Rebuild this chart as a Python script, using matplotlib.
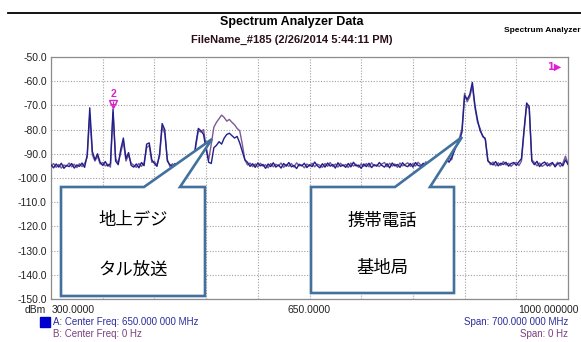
import numpy as np
import matplotlib
import matplotlib.pyplot as plt
from matplotlib.patches import Polygon, Rectangle
matplotlib.use('Agg')

# sweep: 300 MHz .. 1000 MHz, 201 points
freq = np.linspace(300, 1000, 201)

# trace A (dBm)
level_a = [
    -94.5, -95.8, -94.2, -95.5, -93.9, -96.0, -94.8, -95.3, -94.0, -95.9,
    -94.6, -95.2, -93.8, -95.6, -90.5, -71.0, -89.0, -92.5, -90.0, -93.5,
    -94.8, -93.2, -95.1, -94.0, -71.5, -93.0, -94.5, -88.0, -83.5, -92.0,
    -89.5, -94.8, -95.5, -94.2, -95.8, -93.6, -94.9, -86.0, -85.5, -92.5,
    -94.0, -95.2, -90.0, -77.5, -80.0, -93.0, -94.5, -95.3, -94.0, -95.6,
    -93.8, -95.0, -94.3, -95.7, -93.9, -94.8, -86.0, -79.5, -80.5, -82.0,
    -88.0, -93.5, -94.0, -87.5, -86.5, -85.0, -86.0, -83.5, -82.0, -81.5,
    -82.5, -83.5, -82.8, -85.5, -89.0, -92.5, -93.5, -95.2, -94.1, -95.6,
    -93.8, -95.0, -94.4, -96.0, -94.2, -95.3, -93.7, -95.5, -94.6, -95.9,
    -94.0, -95.1, -93.6, -95.4, -94.8, -96.1, -94.3, -95.0, -93.9, -95.7,
    -94.5, -95.3, -93.4, -94.9, -95.8, -94.1, -95.5, -93.8, -95.1, -94.4,
    -95.9, -93.7, -95.2, -94.6, -95.6, -94.0, -95.4, -93.5, -95.0, -94.7,
    -96.0, -94.2, -95.3, -93.9, -95.7, -94.5, -95.1, -93.6, -94.8, -95.5,
    -94.1, -95.8, -93.8, -95.0, -94.4, -95.6, -93.7, -94.9, -95.3, -94.0,
    -95.5, -93.6, -94.8, -95.2, -93.9, -95.7, -94.3, -93.4, -94.9, -93.2,
    -94.6, -92.8, -93.9, -92.0, -93.5, -91.5, -89.0, -86.0, -84.5, -81.0,
    -66.0, -67.5, -65.5, -60.5, -70.0, -76.0, -80.5, -82.5, -84.0, -93.0,
    -93.8, -94.6, -93.2, -95.0, -93.9, -94.4, -93.5, -95.1, -94.0, -93.6,
    -94.8, -93.3, -92.0, -80.0, -69.0, -70.5, -93.0, -94.5, -93.1, -95.3,
    -94.0, -93.4, -95.0, -94.2, -93.6, -95.4, -94.1, -93.7, -95.0, -92.5,
    -94.4,
]

# trace B (dBm)
level_b = [
    -95.2, -94.0, -95.6, -94.4, -95.9, -94.6, -95.1, -93.8, -95.4, -94.3,
    -95.7, -94.1, -95.3, -94.0, -91.5, -74.0, -90.5, -93.0, -91.0, -94.2,
    -93.6, -95.0, -94.3, -95.5, -73.0, -92.0, -93.8, -89.5, -85.0, -93.0,
    -90.5, -93.9, -94.7, -95.6, -94.0, -95.2, -93.8, -87.5, -86.5, -93.5,
    -93.2, -94.6, -91.0, -79.0, -81.5, -92.2, -95.3, -94.1, -95.5, -94.2,
    -95.4, -93.9, -95.2, -94.0, -95.1, -93.6, -87.0, -80.5, -81.0, -80.0,
    -87.0, -92.5, -86.0, -79.0, -77.0, -75.5, -74.0, -75.0, -76.5, -75.8,
    -77.0, -78.0, -79.5, -80.5, -86.0, -92.5, -94.6, -93.8, -95.3, -94.2,
    -95.5, -93.9, -95.1, -94.5, -95.8, -94.0, -95.4, -94.3, -95.0, -93.8,
    -95.6, -94.4, -95.2, -94.0, -95.5, -93.7, -95.0, -94.6, -95.8, -94.2,
    -95.1, -93.9, -95.4, -94.3, -94.7, -95.6, -94.0, -95.2, -93.6, -95.3,
    -94.2, -95.5, -93.9, -95.0, -94.4, -95.7, -93.8, -95.1, -94.3, -95.6,
    -94.1, -95.2, -94.0, -95.4, -93.7, -95.0, -94.6, -95.3, -94.2, -93.6,
    -95.4, -93.9, -95.1, -94.2, -95.6, -93.8, -95.0, -94.4, -93.7, -95.2,
    -94.0, -95.1, -93.5, -94.6, -95.0, -93.3, -94.8, -92.5, -93.9, -94.5,
    -93.1, -94.2, -92.6, -93.4, -91.8, -92.5, -88.0, -85.0, -83.5, -79.5,
    -65.0, -68.5, -66.5, -62.0, -71.0, -77.0, -79.5, -83.0, -83.5, -92.5,
    -94.5, -93.4, -95.0, -93.7, -94.8, -93.2, -94.6, -93.9, -95.2, -94.1,
    -93.5, -94.9, -93.0, -81.0, -70.0, -71.5, -92.5, -93.6, -95.0, -93.8,
    -95.2, -94.5, -93.7, -95.1, -94.0, -94.8, -93.5, -95.3, -93.9, -91.0,
    -94.0,
]

y_ticks = [-150, -140, -130, -120, -110, -100, -90, -80, -70, -60, -50]
x_grid = [300, 370, 440, 510, 580, 650, 720, 790, 860, 930, 1000]
marker2 = (384, -69.5)

W, H = 581, 342


def px(x, y):
    return x / W, 1 - y / H


plt.rcParams['font.family'] = ['Liberation Sans', 'DejaVu Sans']
fig = plt.figure(figsize=(W / 100, H / 100), dpi=100)
ax = fig.add_axes([51 / W, 1 - 299 / H, 517 / W, 242 / H])

ax.plot(freq, level_b, color='#7e5a94', lw=1.0, zorder=2)
ax.plot(freq, level_a, color='#20208c', lw=1.0, zorder=3)

# marker 2
ax.plot(*marker2, marker='v', ms=5.5, mfc='none', mec='#d623c8', mew=1, zorder=4)
ax.plot(*marker2, marker='+', ms=5, mec='#d623c8', mew=0.8, zorder=4)
ax.text(marker2[0], marker2[1] + 2.2, '2', color='#d623c8', fontsize=7.5, fontweight='bold',
        ha='center', va='bottom', zorder=4)
ax.text(0.988, 0.958, '1▶', transform=ax.transAxes, color='#e020d0', fontsize=7,
        fontweight='bold', ha='right', va='center', family=['DejaVu Sans'])

ax.set_xlim(300, 1000)
ax.set_ylim(-150, -50)
ax.set_yticks(y_ticks)
ax.set_yticklabels([f"{v:.1f}" for v in y_ticks], fontsize=7.5, color='#222222')
ax.set_xticks(x_grid)
ax.set_xticklabels([])
ax.tick_params(length=0, pad=3)
ax.grid(color='#a0a0a0', linestyle=(0, (1, 1.5)), linewidth=0.8)
for s in ax.spines.values():
    s.set_color('#8c8c8c')
    s.set_linewidth(0.9)

# callouts
edge = '#41719c'


def callout(left, right, top, bottom, b1, b2, tip):
    pts = [(left, top), (b1, top), tip, (b2, top), (right, top), (right, bottom), (left, bottom)]
    poly = Polygon([px(*p) for p in pts], closed=True, transform=fig.transFigure,
                   facecolor='white', edgecolor=edge, lw=1.9, joinstyle='miter', zorder=10)
    fig.add_artist(poly)


callout(61, 205, 187, 296, 144, 180, (212, 139))
callout(311, 454, 187, 293, 395, 430, (462, 137))

jp = ['Noto Sans CJK JP', 'DejaVu Sans']
for (x, y, t) in [(133, 220, '地上デジ'), (133, 270, 'タル放送'),
                  (382, 221, '携帯電話'), (382, 268, '基地局')]:
    fig.text(*px(x, y), t, family=jp, fontsize=12.5, ha='center', va='center', zorder=11)

# header
fig.add_artist(plt.Line2D([8 / W, 1], [1 - 13 / H, 1 - 13 / H], transform=fig.transFigure,
                          color='black', lw=1.3))
fig.text(*px(292, 22), 'Spectrum Analyzer Data', fontsize=9, fontweight='bold',
         ha='center', va='center')
fig.text(*px(292, 40), 'FileName_#185 (2/26/2014 5:44:11 PM)', fontsize=8, fontweight='bold',
         color='#2a0f1a', ha='center', va='center')
fig.text(*px(504, 30), 'Spectrum Analyzer', fontsize=6, fontweight='bold',
         ha='left', va='center')

# axis labels under the plot
fig.text(*px(46, 310), 'dBm', fontsize=7.5, color='#222222', ha='right', va='center')
fig.text(*px(52, 310), '300.0000', fontsize=7.5, color='#222222', ha='left', va='center')
fig.text(*px(309, 310), '650.0000', fontsize=7.5, color='#222222', ha='center', va='center')
fig.text(*px(579, 310), '1000.000000', fontsize=7.5, color='#222222', ha='right', va='center')

# legend rows
fig.add_artist(Rectangle(px(40, 327), 10 / W, 10 / H, transform=fig.transFigure,
                         facecolor='#0000cc', edgecolor='#0000cc'))
fig.text(*px(53, 322), 'A: Center Freq: 650.000 000 MHz', fontsize=7, color='#2d2d9e',
         ha='left', va='center')
fig.text(*px(53, 334), 'B: Center Freq: 0 Hz', fontsize=7, color='#7a3f80',
         ha='left', va='center')
fig.text(*px(568, 322), 'Span: 700.000 000 MHz', fontsize=7, color='#2d2d9e',
         ha='right', va='center')
fig.text(*px(568, 334), 'Span: 0 Hz', fontsize=7, color='#7a3f80',
         ha='right', va='center')

fig.savefig('out.png', dpi=100)
